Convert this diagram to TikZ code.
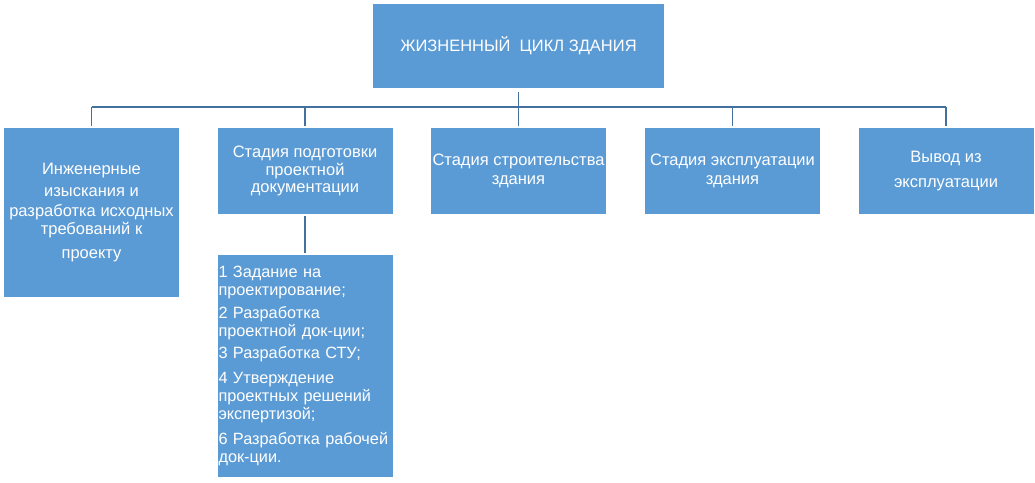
\documentclass[tikz,border=0pt]{standalone}
\usepackage{fontspec}
\setmainfont{Liberation Sans}
\definecolor{boxblue}{HTML}{5B9BD5}
\definecolor{lineblue}{HTML}{41719C}
\begin{document}
\begin{tikzpicture}[x=1pt,y=-1pt,
	stage/.style={fill=boxblue,text=white,inner sep=0pt,align=center,
		minimum width=175pt,minimum height=86pt,font=\fontsize{16.5}{17.5}\selectfont},
	link/.style={draw=lineblue,line width=1.6pt,shorten <=2pt,shorten >=2pt}]
	
	\useasboundingbox (0,0) rectangle (1035,482);
	
	% top box
	\node[stage,minimum width=291pt,minimum height=84pt] (life) at (518.5,46)
		{ЖИЗНЕННЫЙ\ \ ЦИКЛ ЗДАНИЯ};
	
	% stages
	\node[stage,minimum height=169pt] (b1) at (91.5,212.5)
		{Инженерные\\[4.5pt]изыскания и\\[2.5pt]разработка исходных\\требований к\\[6.5pt]проекту};
	\node[stage] (b2) at (305,171) {Стадия подготовки\\проектной\\документации};
	\node[stage] (b3) at (518.5,171) {Стадия строительства\\[1.5pt]здания};
	\node[stage] (b4) at (732.5,171) {Стадия эксплуатации\\[1.5pt]здания};
	\node[stage] (b5) at (946,171) {Вывод из\\[7.5pt]эксплуатации};
	
	% list under b2
	\node[stage,minimum height=222pt,align=left,text width=173pt,inner xsep=0.5pt,
		font=\fontsize{16.3}{18}\selectfont] (steps) at (305,366)
		{1 Задание на\\проектирование;\\[5.5pt]2 Разработка\\проектной док-ции;\\[4pt]3 Разработка СТУ;\\[7pt]4 Утверждение\\проектных решений\\экспертизой;\\[7pt]6 Разработка рабочей\\док-ции.};
	
	% connectors
	\coordinate (bar) at (518.5,107);
	\draw[link,shorten <=0pt,shorten >=0pt] (b1.north |- bar) -- (b5.north |- bar);
	\draw[link,shorten <=4pt] (life.south) -- (b3.north);
	\foreach \b in {b1,b2,b4,b5}
		\draw[link,shorten <=0pt] (\b.north |- bar) -- (\b.north);
	\draw[link] (b2.south) -- (steps.north);
	
\end{tikzpicture}
\end{document}
